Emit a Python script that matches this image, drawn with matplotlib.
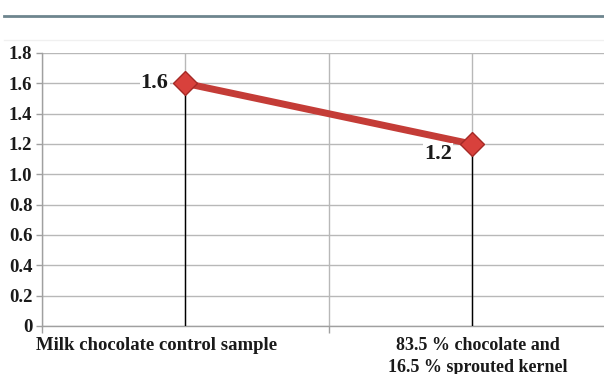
import matplotlib
matplotlib.use("Agg")
import matplotlib.pyplot as plt
from matplotlib.lines import Line2D
import matplotlib.transforms as mtransforms

categories = ["Milk chocolate control sample", "83.5 % chocolate and\n16.5 % sprouted kernel"]
values = [1.6, 1.2]
value_labels = ["1.6", "1.2"]
yticks = [0, 0.2, 0.4, 0.6, 0.8, 1.0, 1.2, 1.4, 1.6, 1.8]
ytick_labels = ["0", "0.2", "0.4", "0.6", "0.8", "1.0", "1.2", "1.4", "1.6", "1.8"]

W, H = 604, 374
fig = plt.figure(figsize=(W / 100, H / 100), dpi=100)
fig.patch.set_facecolor("white")

ax = fig.add_axes([42 / W, 48 / H, 573 / W, 273 / H])
x = list(range(len(categories)))

serif = "Liberation Serif"
txtc = "#1a1a1a"

ax.set_ylim(0, 1.8)
ax.set_xlim(-0.5, 1.5)
ax.set_yticks(yticks)
ax.set_yticklabels(ytick_labels, fontfamily=serif, fontweight="bold", fontsize=13.5, color=txtc)
ax.set_xticks([-0.5, 0.5, 1.5])
ax.set_xticklabels([])
ax.set_xticks(x, minor=True)
ax.set_xticklabels(categories, minor=True, fontfamily=serif, fontweight="bold",
                   fontsize=13.5, ha="center", va="top", linespacing=1.37, color=txtc)
ax.tick_params(axis="x", which="major", length=5, color="#a0a0a0", width=1)
ax.tick_params(axis="x", which="minor", length=0, pad=8)
ax.tick_params(axis="y", length=4, color="#a0a0a0", width=1, pad=3)
ax.grid(True, which="both", color="#b8b8b8", linewidth=1)
ax.set_axisbelow(True)
for s in ["top", "right"]:
    ax.spines[s].set_visible(False)
for s in ["left", "bottom"]:
    ax.spines[s].set_color("#a0a0a0")
    ax.spines[s].set_linewidth(1)

# adjust category labels
lbls = ax.get_xticklabels(minor=True)
off0 = mtransforms.ScaledTranslation(-29 / 100, 0, fig.dpi_scale_trans)
lbls[0].set_transform(lbls[0].get_transform() + off0)
off1 = mtransforms.ScaledTranslation(6 / 100, 0, fig.dpi_scale_trans)
lbls[1].set_transform(lbls[1].get_transform() + off1)
lbls[1].set_fontsize(13)

# drop lines
ax.vlines(x, 0, values, color="black", linewidth=1, zorder=3)

# data line
ax.plot(x, values, color="#c43c37", linewidth=5, solid_capstyle="butt", zorder=4)
ax.plot(x, values, linestyle="none", marker="D", markersize=12,
        markerfacecolor="#d8413c", markeredgecolor="#a52a26", markeredgewidth=1, zorder=5)

# data labels
ax.annotate(value_labels[0], (x[0], values[0]), xytext=(-12, 0), textcoords="offset points",
            ha="right", va="center", fontfamily=serif, fontweight="bold", fontsize=16,
            color=txtc, zorder=6,
            bbox=dict(boxstyle="square,pad=0.05", facecolor="white", edgecolor="none"))
ax.annotate(value_labels[1], (x[1], values[1]), xytext=(-14, -7), textcoords="offset points",
            ha="right", va="center", fontfamily=serif, fontweight="bold", fontsize=16,
            color=txtc, zorder=6,
            bbox=dict(boxstyle="square,pad=0.05", facecolor="white", edgecolor="none"))

# decorative top rules
fig.add_artist(Line2D([4 / W, 1], [1 - 16 / H, 1 - 16 / H], color="#6e858e", linewidth=2))
fig.add_artist(Line2D([4 / W, 1], [1 - 40 / H, 1 - 40 / H], color="#f0f0f0", linewidth=1))

fig.savefig("out.png", dpi=100)
